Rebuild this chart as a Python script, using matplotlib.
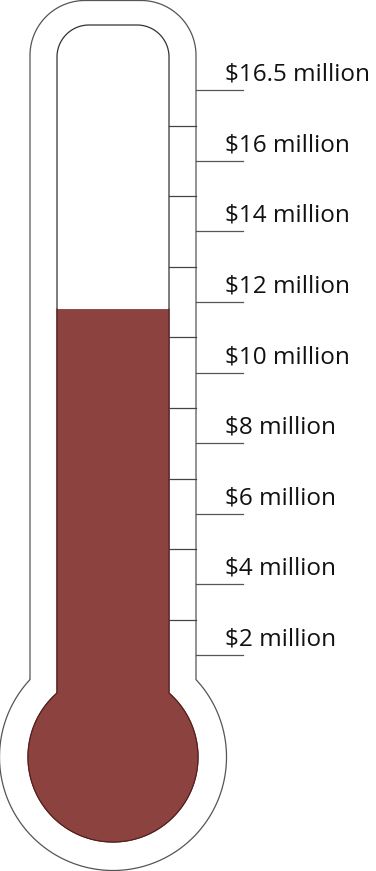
import numpy as np
import matplotlib
matplotlib.use('Agg')
import matplotlib.pyplot as plt
from matplotlib.patches import Polygon

# ---- data (millions of dollars) ----
raised = 11.8
tick_values = [2, 4, 6, 8, 10, 12, 14, 16, 18]
tick_labels = ["$2 million", "$4 million", "$6 million", "$8 million", "$10 million",
               "$12 million", "$14 million", "$16 million", "$16.5 million"]
minor_values = [3, 5, 7, 9, 11, 13, 15, 17]

W, H = 376, 871
ppm = 35.3          # pixels per million
zero_px = 725.6     # pixel row of value 0

fig = plt.figure(figsize=(W / 100, H / 100), dpi=100)
ax = fig.add_axes([0, 0, 1, 1])
ax.set_xlim(0, W / ppm)
ax.set_ylim((zero_px - H) / ppm, zero_px / ppm)
ax.axis('off')

def X(px): return px / ppm
def Y(py): return (zero_px - py) / ppm

cx, cy = X(113), Y(757)
R_out, R_in = 113.5 / ppm, 85 / ppm
oxl, oxr, otop, orad = X(30), X(196), Y(0.5), 55 / ppm
ixl, ixr, itop, irad = X(57), X(169), Y(25), 32 / ppm

def arc(xc, yc, r, a0, a1, n=80):
    t = np.radians(np.linspace(a0, a1, n))
    return np.column_stack([xc + r * np.cos(t), yc + r * np.sin(t)])

def angles(xl, xr, R):
    al = np.degrees(np.arccos((xl - cx) / R))
    ar = np.degrees(np.arccos((xr - cx) / R))
    return al, ar

def shape(xl, xr, R, top=None, rad=None, level=None):
    al, ar = angles(xl, xr, R)
    yl = cy + R * np.sin(np.radians(al))
    yr = cy + R * np.sin(np.radians(ar))
    pts = [np.array([[xl, yl]])]
    if level is None:
        pts.append(arc(xl + rad, top - rad, rad, 180, 90))
        pts.append(arc(xr - rad, top - rad, rad, 90, 0))
    else:
        pts.append(np.array([[xl, level], [xr, level]]))
    pts.append(np.array([[xr, yr]]))
    pts.append(arc(cx, cy, R, ar, al - 360, 200))
    return np.vstack(pts)

outer = shape(oxl, oxr, R_out, otop, orad)
ax.add_patch(Polygon(outer, closed=True, facecolor='white', edgecolor='#555555', lw=0.9, zorder=1))

inner = shape(ixl, ixr, R_in, itop, irad)
ax.add_patch(Polygon(inner, closed=True, facecolor='white', edgecolor='#333333', lw=0.9, zorder=2))

fill = shape(ixl, ixr, R_in, level=raised)
ax.add_patch(Polygon(fill, closed=True, facecolor='#8c423f', edgecolor='none', zorder=3))
# dark edge on fill except its top
ax.plot(np.r_[fill[2:, 0], fill[0, 0], fill[1, 0]], np.r_[fill[2:, 1], fill[0, 1], fill[1, 1]],
        color='#5a1c1a', lw=0.8, zorder=4)

# minor ticks (inside tube wall)
for v in minor_values:
    ax.plot([ixr, oxr], [v, v], color='#444444', lw=0.9, zorder=5)
# major ticks + labels
for v, lab in zip(tick_values, tick_labels):
    ax.plot([oxr, X(243)], [v, v], color='#555555', lw=0.9, zorder=5)
    ax.text(X(225), v + 9.5 / ppm, lab, ha='left', va='baseline',
            fontsize=17.5, family=['Open Sans', 'DejaVu Sans'], color='#111111', zorder=6)

fig.savefig('out.png', dpi=100)
